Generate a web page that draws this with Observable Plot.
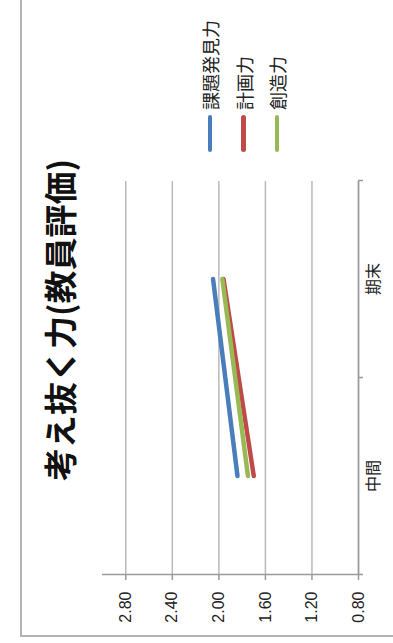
<!DOCTYPE html>
<html>
<head>
<meta charset="utf-8">
<script src="https://cdn.jsdelivr.net/npm/d3@7"></script>
<script src="https://cdn.jsdelivr.net/npm/@observablehq/plot@0.6"></script>
<style>
  html, body { margin: 0; padding: 0; background: #fff; width: 393px; height: 643px; overflow: hidden; }
  /* The chart is laid out landscape (643 x 393) and turned a quarter turn counter-clockwise. */
  #stage {
    position: absolute; left: 0; top: 0; width: 643px; height: 393px;
    transform-origin: 0 0; transform: translate(0, 643px) rotate(-90deg);
    font-family: "Noto Sans CJK JP", sans-serif; color: #222;
  }
  #frame {
    position: absolute; left: 6px; top: 20px; width: 700px; height: 450px;
    border-left: 2px solid #b4b4b4; border-top: 2px solid #b4b4b4;
  }
  #title {
    position: absolute; left: 0; top: 41px; width: 646px; text-align: center;
    font-size: 33px; line-height: 36px; font-weight: 700; color: #111; white-space: nowrap;
  }
  #chart { position: absolute; left: 0; top: 0; }
  .item { position: absolute; left: 491px; height: 24px; display: flex; align-items: center; white-space: nowrap; }
  .swatch { width: 37px; height: 4.5px; border-radius: 3px; }
  .label { margin-left: 5px; font-size: 18px; line-height: 24px; color: #222; }
</style>
</head>
<body>
<div id="stage">
  <div id="frame"></div>
  <div id="title"></div>
  <div id="chart"></div>
  <div id="legend"></div>
</div>
<script>
const chartTitle = "考え抜く力(教員評価)";
const categories = ["中間", "期末"];
const seriesNames = ["課題発見力", "計画力", "創造力"];
const kadaiHakken = [1.84, 2.05];
const keikaku = [1.70, 1.96];
const souzou = [1.75, 1.97];
const yTicks = [0.8, 1.2, 1.6, 2.0, 2.4, 2.8];
const yDomain = [0.8, 3.0];
const colors = ["#4A7EBB", "#BE4B48", "#98B954"];

document.getElementById("title").textContent = chartTitle;

// Categories sit at the centres of unit-wide slots; slot edges carry the axis ticks.
const seriesValues = [kadaiHakken, keikaku, souzou];
const rows = seriesNames.flatMap((name, s) =>
  categories.map((cat, i) => ({series: name, pos: i + 0.5, value: seriesValues[s][i]}))
);
const slotEdges = categories.map((_, i) => i).concat([categories.length]);
const slotCentres = categories.map((_, i) => i + 0.5);

const axisColor = "#9a9a9a";
const chart = Plot.plot({
  width: 643,
  height: 393,
  marginLeft: 68,
  marginRight: 181,
  marginTop: 102,
  marginBottom: 35,
  style: {fontFamily: '"Liberation Sans", "Noto Sans CJK JP", sans-serif', fontSize: "16px", color: "#222", background: "transparent"},
  x: {type: "linear", domain: [0, categories.length], label: null},
  y: {domain: yDomain, label: null},
  color: {domain: seriesNames, range: colors},
  marks: [
    Plot.gridY(yTicks, {stroke: "#b9b9b9", strokeOpacity: 1, strokeWidth: 1.5}),
    Plot.ruleX([0], {y1: yDomain[0], y2: yDomain[1], stroke: axisColor, strokeWidth: 1.5}),
    Plot.ruleY([yDomain[0]], {x1: 0, x2: categories.length, stroke: axisColor, strokeWidth: 1.5}),
    Plot.axisY(yTicks, {tickSize: 5, tickPadding: 12, stroke: axisColor, strokeWidth: 1.5, tickFormat: d => d.toFixed(2), fontSize: 16}),
    Plot.axisX(slotEdges, {tickSize: 5, stroke: axisColor, strokeWidth: 1.5, tickFormat: () => ""}),
    Plot.axisX(slotCentres, {tickSize: 0, tickPadding: 9, tickFormat: d => categories[Math.floor(d)], fontSize: 16, fontFamily: '"Noto Sans CJK JP", sans-serif'}),
    Plot.lineY(rows, {x: "pos", y: "value", z: "series", stroke: "series", strokeWidth: 4.5, strokeLinecap: "round"})
  ]
});
document.getElementById("chart").appendChild(chart);

// Legend rows stacked to the right of the plot area.
const legend = document.getElementById("legend");
const rowCentres = [210, 243.5, 277];
seriesNames.forEach((name, i) => {
  const item = document.createElement("div");
  item.className = "item";
  item.style.top = (rowCentres[i] - 12) + "px";
  const sw = document.createElement("span");
  sw.className = "swatch";
  sw.style.background = colors[i];
  const lb = document.createElement("span");
  lb.className = "label";
  lb.textContent = name;
  item.appendChild(sw);
  item.appendChild(lb);
  legend.appendChild(item);
});
</script>
</body>
</html>
